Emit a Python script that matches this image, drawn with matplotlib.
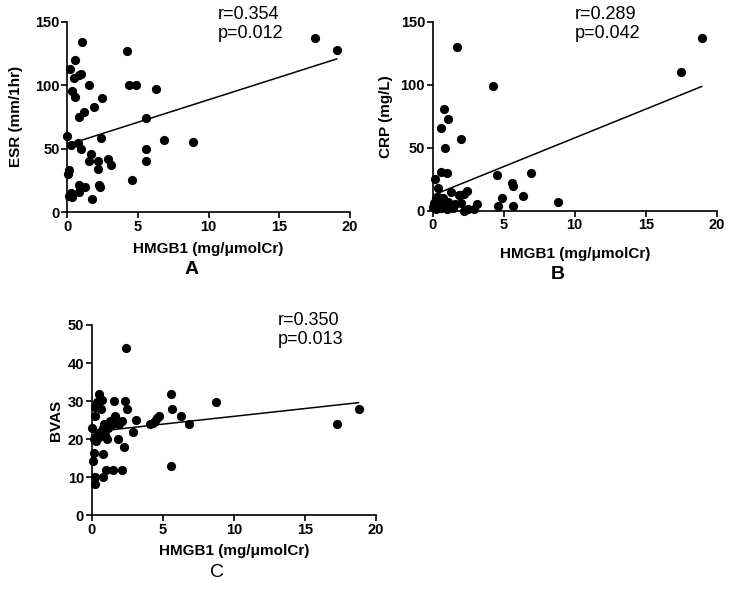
import numpy as np
import matplotlib
matplotlib.use("Agg")
import matplotlib.pyplot as plt

plt.rcParams['font.family'] = ['Liberation Sans', 'DejaVu Sans']

# Panel A: HMGB1 vs ESR
hmgb1_a = [19.06, 17.5, 4.24, 1.02, 0.54, 0.19, 0.47, 0.8, 1.0, 1.5, 4.4, 4.86, 6.3,
           0.31, 0.54, 2.43, 1.9, 1.2, 0.85, 5.6, 2.38, 0.0, 0.24, 0.78, 0.97, 6.86,
           8.86, 5.58, 5.58, 1.65, 1.5, 2.2, 2.15, 2.9, 3.1, 4.57, 0.12, 0.07, 0.85,
           1.27, 0.8, 2.26, 2.3, 1.77, 0.24, 0.14, 0.3]
esr = [128, 137, 127, 134, 120, 113, 106, 108, 109, 100, 100, 100, 97,
       95, 91, 90, 83, 79, 75, 74, 58, 60, 53, 54, 50, 57,
       55, 50, 40, 46, 40, 40, 34, 42, 37, 25, 33, 30, 21,
       20, 16, 21, 20, 10, 15, 13, 12]

# Panel B: HMGB1 vs CRP
hmgb1_b = [18.94, 17.47, 1.69, 4.27, 0.8, 1.06, 0.59, 1.97, 0.89, 0.56, 1.03, 0.16,
           6.9, 4.5, 5.6, 5.65, 6.34, 4.9, 8.85, 4.6, 5.63, 0.35, 2.4, 2.2, 1.85,
           1.3, 3.1, 2.5, 2.2, 1.57, 0.05, 0.1, 0.2, 0.3, 0.45, 0.6, 0.75, 0.9, 1.0,
           1.2, 0.25, 0.4, 0.7, 0.85, 1.1, 2.9, 2.0, 1.4]
crp = [137, 110, 130, 99, 80.5, 72.5, 65.6, 56.7, 49.5, 31, 30, 25,
       30, 28, 21.7, 19.6, 11.7, 10.3, 7.2, 3.7, 3.7, 17.7, 15.5, 13, 12.3,
       14.8, 5.3, 1, 0, 5.3, 3, 6, 1, 8, 4, 2, 10, 5, 1,
       3, 9, 11, 6, 3, 7, 1.5, 6.5, 2.5]

# Panel C: HMGB1 vs BVAS
hmgb1_c = [18.77, 17.28, 2.39, 8.72, 5.58, 5.62, 5.6, 6.28, 6.84, 4.75, 4.6, 4.45,
           4.3, 4.1, 3.14, 2.9, 2.33, 2.49, 2.26, 2.16, 1.56, 0.53, 0.35, 0.7, 0.23,
           0.63, 0.23, 1.65, 1.28, 1.51, 1.12, 2.16, 1.92, 1.86, 0.05, 0.16, 0.11,
           0.23, 0.23, 0.81, 0.77, 1.0, 1.51, 0.4, 0.6, 0.8, 0.95, 1.05, 0.3, 0.5,
           0.85, 0.15, 0.9]
bvas = [27.9, 24, 43.9, 29.9, 32, 28, 13, 26, 24.1, 26, 25.5, 24.8,
        24.2, 24, 25, 22, 30, 28, 18, 12, 30, 32, 29.8, 30.3, 28.5,
        28, 26, 26, 24.8, 24.1, 23, 24.8, 24.1, 20, 23, 16.3, 14.3,
        10.1, 8.1, 16, 10.1, 12, 12, 21, 22, 23, 21, 20, 19.5, 20.5,
        22.5, 20, 24]

# regression lines (intercept, slope)
fit_a = (53.0, 3.55)
fit_b = (12.2, 4.56)
fit_c = (21.9, 0.41)

stats_a = "r=0.354\np=0.012"
stats_b = "r=0.289\np=0.042"
stats_c = "r=0.350\np=0.013"

fig = plt.figure(figsize=(7.33, 5.89), dpi=100)
W, H = 733, 589


def make_axes(left, top, right, bottom):
    return fig.add_axes([left / W, 1 - bottom / H, (right - left) / W, (bottom - top) / H])


def panel(ax, x, y, fit, ymax, ystep, ylabel, stats, letter, stats_pos,
          xlab_y, ylab_x, letter_y, letter_bold=True):
    ax.scatter(x, y, s=44, color="black", zorder=3, clip_on=False, linewidths=0)
    xs = np.array([min(x), max(x)])
    ax.plot(xs, fit[0] + fit[1] * xs, color="black", linewidth=1.1)
    ax.set_xlim(0, 20)
    ax.set_ylim(0, ymax)
    ax.set_xticks([0, 5, 10, 15, 20])
    ax.set_yticks(np.arange(0, ymax + 1, ystep))
    for s in ["top", "right"]:
        ax.spines[s].set_visible(False)
    for s in ["left", "bottom"]:
        ax.spines[s].set_linewidth(1.2)
    ax.tick_params(direction="out", length=4, width=1.2, labelsize=10.5, pad=1.5)
    for lab in ax.get_xticklabels() + ax.get_yticklabels():
        lab.set_fontweight("bold")
    ax.set_xlabel("HMGB1 (mg/μmolCr)", fontsize=11, fontweight="bold")
    ax.xaxis.set_label_coords(0.5, xlab_y)
    ax.set_ylabel(ylabel, fontsize=11, fontweight="bold")
    ax.yaxis.set_label_coords(ylab_x, 0.5)
    ax.text(stats_pos[0], stats_pos[1], stats, transform=ax.transAxes, fontsize=13,
            va="center", ha="left", linespacing=1.15)
    ax.text(0.44, letter_y, letter, transform=ax.transAxes, fontsize=14,
            fontweight="bold" if letter_bold else "normal", ha="center", va="center")


ax_a = make_axes(67.3, 21.7, 350, 212)
panel(ax_a, hmgb1_a, esr, fit_a, 150, 50, "ESR (mm/1hr)", stats_a, "A",
      (0.533, 0.99), -0.158, -0.157, -0.30)

ax_b = make_axes(432.7, 21.7, 716.7, 210.7)
panel(ax_b, hmgb1_b, crp, fit_b, 150, 50, "CRP (mg/L)", stats_b, "B",
      (0.50, 0.99), -0.193, -0.14, -0.335)

ax_c = make_axes(91.7, 325, 376, 515.3)
panel(ax_c, hmgb1_c, bvas, fit_c, 50, 10, "BVAS", stats_c, "C",
      (0.656, 0.975), -0.152, -0.10, -0.30, letter_bold=False)

plt.savefig("out.png", dpi=100, facecolor="white")
